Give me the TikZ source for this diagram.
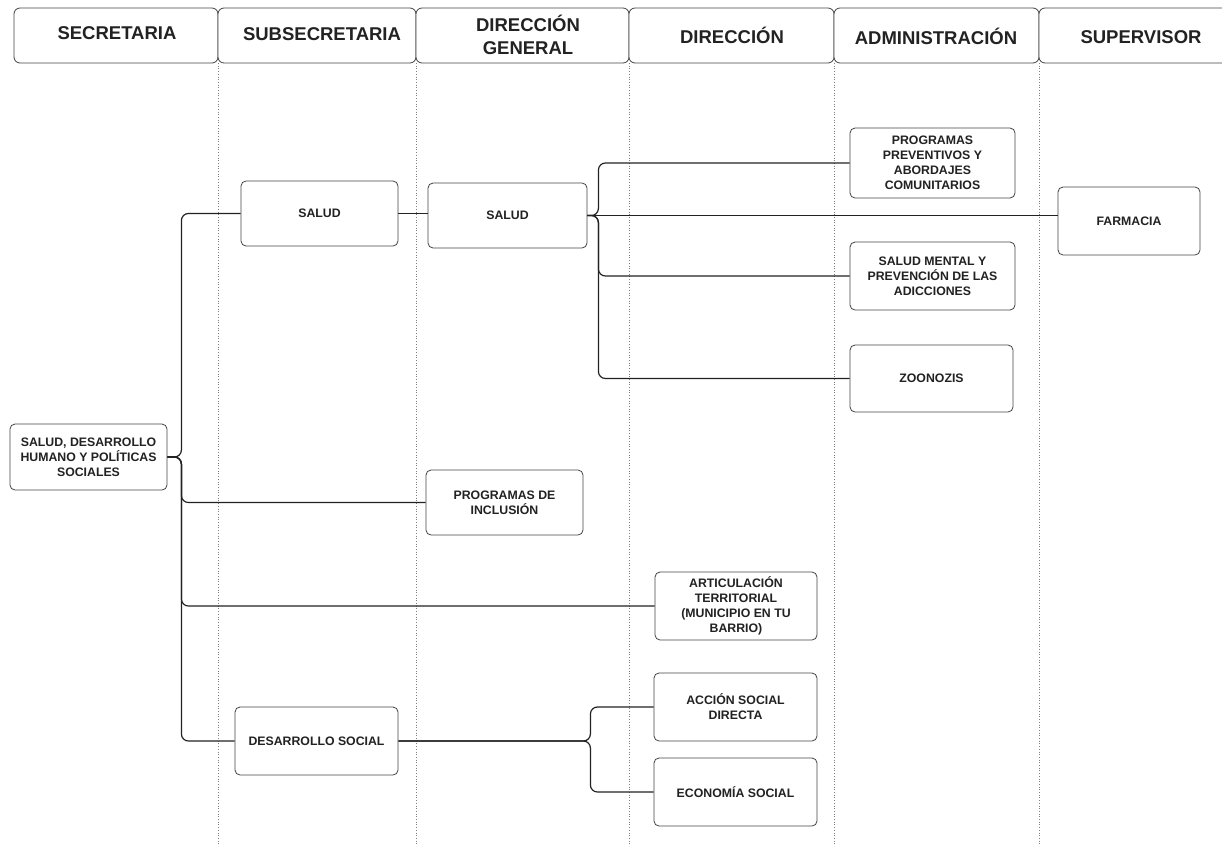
\documentclass[tikz,border=0pt]{standalone}
\usepackage{fontspec}
\setmainfont{Liberation Sans}
\definecolor{ink}{HTML}{222222}
\definecolor{edge}{HTML}{444444}
\begin{document}
\begin{tikzpicture}[x=1pt,y=-1pt,
  box/.style={draw=edge, line width=0.8pt, rounded corners=5pt, fill=white, align=center,
    font=\bfseries\fontsize{12.3}{15}\selectfont, text=ink, inner sep=0pt},
  hdr/.style={draw=edge, line width=0.8pt, rounded corners=6pt, fill=white},
  htext/.style={font=\bfseries\fontsize{18.5}{23}\selectfont, text=ink, align=center},
  link/.style={draw=ink, line width=1.2pt, rounded corners=7pt},
  guide/.style={draw=black!50, dotted, line width=0.7pt}]
\useasboundingbox (0,0) rectangle (1222,846);
\fill[white] (0,0) rectangle (1222,846);
% column guides
\foreach \gx in {218,416,629,834,1039}{
  \draw[guide] (\gx,63) -- (\gx,846);
}
% header row
\draw[hdr] (14,8) rectangle (218,63);
\draw[hdr] (218,8) rectangle (416,63);
\draw[hdr] (416,8) rectangle (629,63);
\draw[hdr] (629,8) rectangle (834,63);
\draw[hdr] (834,8) rectangle (1039,63);
\draw[hdr] (1039,8) rectangle (1240,63);
\node[htext] (h1) at (117,33) {SECRETARIA};
\node[htext] (h2) at (322,34) {SUBSECRETARIA};
\node[htext] (h3) at (528,35) {DIRECCIÓN\\GENERAL};
\node[htext] (h4) at (732,35) {DIRECCIÓN};
\node[htext] (h5) at (936,36) {ADMINISTRACIÓN};
\node[htext] (h6) at (1141,37) {SUPERVISOR};
% nodes
\node[box, minimum width=157pt, minimum height=66pt] (root) at (88.5,457) {SALUD, DESARROLLO\\HUMANO Y POLÍTICAS\\SOCIALES};
\node[box, minimum width=157pt, minimum height=65pt] (s1) at (319.5,213.5) {SALUD};
\node[box, minimum width=159pt, minimum height=65pt] (s2) at (507.5,215.5) {SALUD};
\node[box, minimum width=165pt, minimum height=70pt] (pp) at (932.5,163) {PROGRAMAS\\PREVENTIVOS Y\\ABORDAJES\\COMUNITARIOS};
\node[box, minimum width=142pt, minimum height=68pt] (farm) at (1129,221) {FARMACIA};
\node[box, minimum width=165pt, minimum height=68pt] (sm) at (932.5,276) {SALUD MENTAL Y\\PREVENCIÓN DE LAS\\ADICCIONES};
\node[box, minimum width=163pt, minimum height=67pt] (zoo) at (931.5,378.5) {ZOONOZIS};
\node[box, minimum width=157pt, minimum height=65pt] (pi) at (504.5,502.5) {PROGRAMAS DE\\INCLUSIÓN};
\node[box, minimum width=162pt, minimum height=68pt] (art) at (736,606) {ARTICULACIÓN\\TERRITORIAL\\(MUNICIPIO EN TU\\BARRIO)};
\node[box, minimum width=163pt, minimum height=68pt] (acc) at (735.5,707) {ACCIÓN SOCIAL\\DIRECTA};
\node[box, minimum width=163pt, minimum height=68pt] (eco) at (735.5,792) {ECONOMÍA SOCIAL};
\node[box, minimum width=163pt, minimum height=68pt] (ds) at (316.5,741) {DESARROLLO SOCIAL};
% connectors from root
\draw[link] (root.east) -- ++(14,0) |- (s1.west);
\draw[link] (root.east) -- ++(14,0) |- (pi.west);
\draw[link] (root.east) -- ++(14,0) |- (art.west);
\draw[link] (root.east) -- ++(14,0) |- (ds.west);
% salud chain
\draw[link] (s1.east) -- (s2.west |- s1.east);
\draw[link] (s2.east) -- ++(11,0) |- (pp.west);
\draw[link] (s2.east) -- (farm.west |- s2.east);
\draw[link] (s2.east) -- ++(11,0) |- (sm.west);
\draw[link] (s2.east) -- ++(11,0) |- (zoo.west);
% desarrollo social
\draw[link] (ds.east) -- ++(192,0) |- (acc.west);
\draw[link] (ds.east) -- ++(192,0) |- (eco.west);
\end{tikzpicture}
\end{document}
